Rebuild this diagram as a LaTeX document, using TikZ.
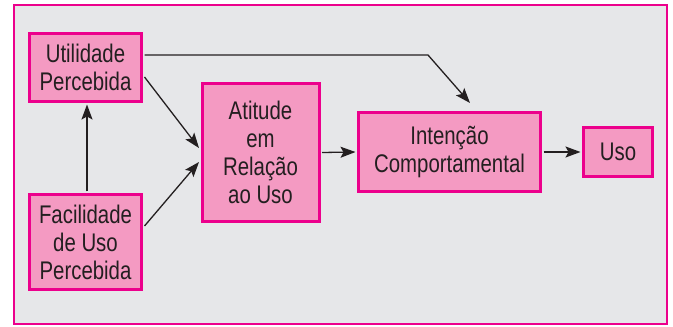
\documentclass[tikz,border=0pt]{standalone}
\usepackage{fontspec}
\setmainfont{Liberation Sans}[FakeStretch=0.8]
\usetikzlibrary{arrows.meta,calc}
\definecolor{boxfill}{HTML}{F49AC2}
\definecolor{boxline}{HTML}{EC008C}
\definecolor{bg}{HTML}{E6E7E9}
\definecolor{ink}{HTML}{231F20}
\tikzset{
  box/.style={draw=boxline, fill=boxfill, line width=3pt, align=center,
    text=ink, inner sep=0pt, font=\fontsize{25.5}{28}\selectfont},
  conn/.style={draw=ink, line width=1.3pt,
    -{Stealth[length=15pt,width=11pt,inset=3pt]}},
}
\begin{document}
\begin{tikzpicture}[x=1pt,y=1pt]
\useasboundingbox (0,0) rectangle (673,327);
\draw[boxline, fill=bg, line width=2pt] (14,3) rectangle (667,322);
\node[box, minimum width=112pt, minimum height=68pt] (util) at (85.5,259.5) {Utilidade\\Percebida};
\node[box, minimum width=112pt, minimum height=95pt] (facil) at (85.5,85) {Facilidade\\de Uso\\Percebida};
\node[box, minimum width=117pt, minimum height=138pt] (atit) at (260.5,174.5) {Atitude\\em\\Relação\\ao Uso};
\node[box, minimum width=182pt, minimum height=79pt] (int) at (449.5,175) {Intenção\\Comportamental};
\node[box, minimum width=69pt, minimum height=49pt] (uso) at (618,175) {Uso};
\coordinate (bend) at (428,272);
\draw[conn] ($(util.east)+(1.5,12.5)$) -- (bend) -- ($(int.north)+(20.5,8)$);
\draw[conn] ($(util.east)+(1.5,-9.5)$) -- ($(atit.west)+(-1.5,4.5)$);
\draw[conn] ($(facil.east)+(1.5,16)$) -- ($(atit.west)+(-1.5,-9.5)$);
\draw[conn] (facil.north -| 87,0) ++(0,1.5) -- ($(util.south -| 87,0)+(0,-1.5)$);
\draw[conn] ($(atit.east)+(1.5,0)$) -- ($(int.west)+(-1.5,0)$);
\draw[conn] ($(int.east)+(1.5,0)$) -- ($(uso.west)+(-1.5,0)$);
\end{tikzpicture}
\end{document}
